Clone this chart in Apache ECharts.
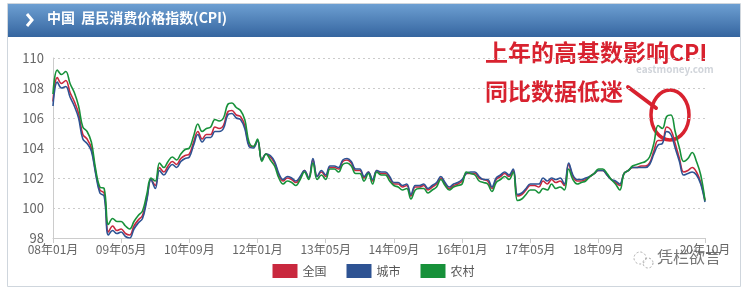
<!DOCTYPE html>
<html>
<head>
<meta charset="utf-8">
<script src="https://cdn.jsdelivr.net/npm/echarts@6/dist/echarts.min.js"></script>
<style>
html,body{margin:0;padding:0;background:#fff;}
#chart{width:747px;height:290px;}
</style>
</head>
<body>
<div id="chart"></div>
<script>
// ---- data ----
const startYear = 2008, monthCount = 154; // 2008-01 .. 2020-10
const yTicks = [98, 100, 102, 104, 106, 108, 110];
const seriesNames = ['全国', '城市', '农村'];

const national = [
107.1,108.7,108.3,108.5,107.7,107.1,106.3,104.9,104.6,104.0,102.4,101.2,
101.0,98.4,98.8,98.5,98.6,98.3,98.2,98.8,99.2,99.5,100.6,101.9,
101.5,102.7,102.4,102.8,103.1,102.9,103.3,103.5,103.6,104.4,105.1,104.6,
104.9,104.9,105.4,105.3,105.5,106.4,106.5,106.2,106.1,105.5,104.2,104.1,
104.5,103.2,103.6,103.4,103.0,102.2,101.8,102.0,101.9,101.7,102.0,102.5,
102.0,103.2,102.1,102.4,102.1,102.7,102.7,102.6,103.1,103.2,103.0,102.5,
102.5,102.0,102.4,101.8,102.5,102.3,102.3,102.0,101.6,101.6,101.4,101.5,
100.8,101.4,101.4,101.5,101.2,101.4,101.6,102.0,101.6,101.3,101.5,101.6,
101.8,102.3,102.3,102.3,102.0,101.9,101.8,101.3,101.9,102.1,102.3,102.1,
102.5,100.8,100.9,101.2,101.5,101.5,101.4,101.8,101.6,101.9,101.7,101.8,
101.5,102.9,102.1,101.8,101.8,101.9,102.1,102.3,102.5,102.5,102.2,101.9,
101.7,101.5,102.3,102.5,102.7,102.7,102.8,102.8,103.0,103.8,104.5,104.5,
105.4,105.2,104.3,103.3,102.4,102.5,102.7,102.4,101.7,100.5
];
const urban = [
106.8,108.4,108.0,108.1,107.4,106.8,106.0,104.6,104.3,103.8,102.3,101.0,
100.8,98.2,98.5,98.3,98.4,98.1,98.0,98.6,99.0,99.3,100.5,101.9,
101.3,102.5,102.2,102.6,102.9,102.7,103.1,103.3,103.4,104.2,104.9,104.4,
104.7,104.7,105.1,105.1,105.3,106.2,106.3,106.0,105.9,105.3,104.1,104.0,
104.5,103.2,103.6,103.5,103.1,102.3,101.9,102.1,102.0,101.8,102.1,102.5,
102.0,103.3,102.1,102.5,102.2,102.8,102.8,102.7,103.2,103.3,103.1,102.6,
102.6,102.1,102.4,101.9,102.5,102.4,102.4,102.1,101.7,101.7,101.5,101.6,
100.9,101.5,101.5,101.6,101.3,101.5,101.7,102.1,101.7,101.4,101.6,101.7,
101.9,102.3,102.4,102.4,102.1,101.9,101.9,101.4,102.0,102.2,102.4,102.2,
102.6,100.9,101.0,101.3,101.6,101.6,101.6,102.0,101.8,102.0,101.9,102.0,
101.6,103.0,102.2,101.9,101.9,102.0,102.1,102.3,102.5,102.5,102.2,101.9,
101.8,101.6,102.3,102.5,102.7,102.7,102.7,102.7,102.9,103.6,104.2,104.3,
105.1,104.9,104.0,103.1,102.2,102.3,102.4,102.2,101.6,100.4
];
const rural = [
107.6,109.2,108.9,109.1,108.3,107.7,106.8,105.4,105.1,104.4,102.6,101.4,
101.3,98.9,99.3,99.1,99.1,98.8,98.6,99.1,99.5,99.8,100.9,102.0,
101.8,103.0,102.7,103.1,103.4,103.2,103.6,103.9,104.0,104.8,105.6,105.1,
105.3,105.4,105.9,105.8,106.0,106.9,107.0,106.7,106.5,105.9,104.4,104.1,
104.6,103.1,103.6,103.2,102.8,102.0,101.6,101.8,101.7,101.5,101.9,102.4,
101.9,103.0,101.9,102.2,101.9,102.6,102.6,102.4,102.9,103.0,102.8,102.3,
102.3,101.8,102.3,101.6,102.4,102.2,102.2,101.8,101.5,101.4,101.2,101.3,
100.6,101.2,101.3,101.3,101.0,101.2,101.4,101.9,101.5,101.2,101.4,101.5,
101.6,102.4,102.3,102.2,101.8,101.7,101.6,101.1,101.7,101.9,102.1,101.9,
102.4,100.5,100.6,100.9,101.2,101.2,101.0,101.3,101.2,101.6,101.3,101.4,
101.2,102.6,101.9,101.6,101.7,101.8,102.1,102.3,102.6,102.6,102.3,101.9,
101.6,101.2,102.3,102.5,102.8,102.9,103.0,103.1,103.4,104.3,105.5,105.3,
106.1,106.2,105.1,104.0,103.1,103.3,103.7,103.1,102.2,100.5
];

const months = [];
for (let i = 0; i < monthCount; i++) {
  const y = startYear + Math.floor(i / 12), m = i % 12 + 1;
  months.push(String(y % 100).padStart(2, '0') + '年' + String(m).padStart(2, '0') + '月');
}
const showLabel = (i) => (i % 16 === 0 && i <= 128) || i === monthCount - 1;

const colors = ['#c9283e', '#2e5393', '#17913a'];
const FONT = '"Noto Sans CJK SC", "Microsoft YaHei", sans-serif';

const chart = echarts.init(document.getElementById('chart'), null, {renderer: 'canvas'});
chart.setOption({
  animation: false,
  backgroundColor: '#fff',
  color: colors,
  textStyle: {fontFamily: FONT},
  grid: {left: 53, right: 42, top: 58, bottom: 52},
  legend: {
    bottom: 7, left: 'center',
    itemWidth: 25, itemHeight: 14, itemGap: 20,
    icon: 'rect',
    textStyle: {color: '#555', fontSize: 12, fontFamily: FONT},
    data: seriesNames
  },
  xAxis: {
    type: 'category', data: months, boundaryGap: false,
    axisLine: {lineStyle: {color: '#ccc'}},
    axisTick: {interval: showLabel, lineStyle: {color: '#ccc'}},
    axisLabel: {interval: showLabel, color: '#666', fontSize: 12, margin: 5, fontFamily: FONT}
  },
  yAxis: {
    type: 'value', min: yTicks[0], max: yTicks[yTicks.length - 1], interval: 2,
    axisLine: {show: true, lineStyle: {color: '#ccc'}},
    axisTick: {show: false},
    axisLabel: {color: '#666', fontSize: 13, margin: 9, fontFamily: FONT},
    splitLine: {lineStyle: {color: '#ccc', type: [2, 3]}}
  },
  series: [
    {name: seriesNames[0], type: 'line', data: national, smooth: 0.4, symbol: 'none', lineStyle: {width: 1.6}},
    {name: seriesNames[1], type: 'line', data: urban, smooth: 0.4, symbol: 'none', lineStyle: {width: 1.6}},
    {name: seriesNames[2], type: 'line', data: rural, smooth: 0.4, symbol: 'none', lineStyle: {width: 1.6}}
  ],
  graphic: [
    {type: 'rect', shape: {x: 7.5, y: 3.5, width: 733, height: 283}, style: {fill: 'none', stroke: '#cfd6dd', lineWidth: 1}, z: -1},
    {type: 'rect', shape: {x: 8, y: 4, width: 732, height: 33},
      style: {fill: new echarts.graphic.LinearGradient(0, 0, 0, 1, [
        {offset: 0, color: '#6d9fd2'}, {offset: 1, color: '#35659f'}])}},
    {type: 'polyline', shape: {points: [[27, 14], [32, 20], [27, 26]]}, style: {stroke: '#fff', lineWidth: 3, fill: 'none'}},
    {type: 'text', left: 47, top: 11, style: {text: '中国  居民消费价格指数(CPI)', fill: '#fff', font: 'bold 14px ' + FONT}},
    {type: 'text', left: 636, top: 64, style: {text: 'eastmoney.com', fill: '#d0d4da', font: 'bold 10px ' + FONT}},
    {type: 'text', left: 484, top: 40, style: {text: '上年的高基数影响CPI', fill: '#d8222f', font: 'bold 23px ' + FONT, stroke: '#fff', lineWidth: 2}},
    {type: 'text', left: 484, top: 79, style: {text: '同比数据低迷', fill: '#d8222f', font: 'bold 23px ' + FONT, stroke: '#fff', lineWidth: 2}},
    {type: 'line', shape: {x1: 628, y1: 87, x2: 656, y2: 108}, style: {stroke: '#d8222f', lineWidth: 4, lineCap: 'round'}},
    {type: 'ellipse', shape: {cx: 670, cy: 115, rx: 19, ry: 25}, style: {fill: 'none', stroke: '#d8222f', lineWidth: 3.5}},
    {type: 'circle', shape: {cx: 640, cy: 258, r: 6}, style: {fill: 'none', stroke: '#aaa', lineWidth: 1, lineDash: [2, 2]}},
    {type: 'circle', shape: {cx: 648, cy: 263, r: 5}, style: {fill: 'none', stroke: '#aaa', lineWidth: 1, lineDash: [2, 2]}},
    {type: 'text', left: 657, top: 249, style: {text: '凭栏欲言', fill: '#777', font: '16px ' + FONT}}
  ]
});
</script>
</body>
</html>
